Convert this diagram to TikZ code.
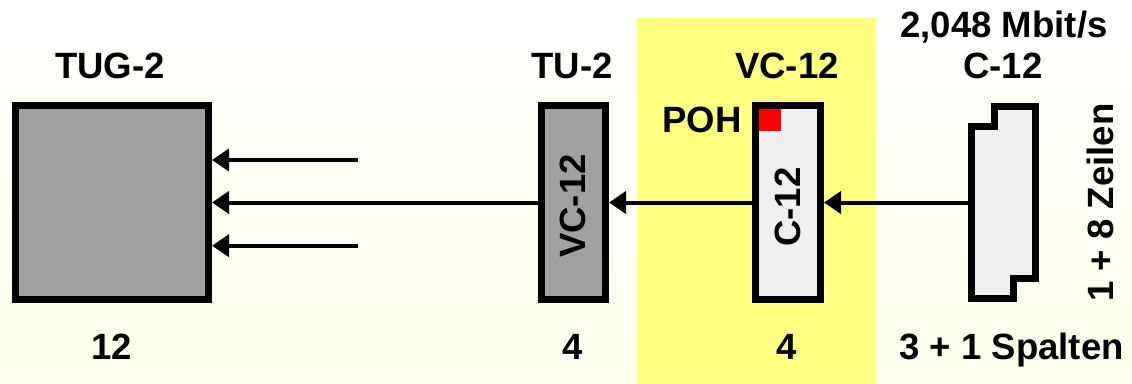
\documentclass[tikz,border=0pt]{standalone}
\usepackage{fontspec}
\setmainfont{Liberation Sans}
\usetikzlibrary{arrows.meta}
\definecolor{boxgray}{RGB}{160,160,160}
\definecolor{lightbox}{RGB}{239,239,239}
\definecolor{vcyellow}{RGB}{255,255,128}
\definecolor{cream}{RGB}{255,255,236}
\begin{document}
\begin{tikzpicture}[
		x=0.025cm, y=-0.025cm,
		every node/.style={font=\fontsize{26}{30}\selectfont\bfseries, inner sep=0pt},
		box/.style={draw, line width=0.175cm, fill=boxgray},
		arr/.style={line width=0.1cm, -{Triangle[length=0.425cm, width=0.55cm]}}
	]
	\shade[top color=white, bottom color=cream] (0,0) rectangle (1132,383);
	\fill[vcyellow] (637,18) rectangle (876,383);
	\useasboundingbox (0,0) rectangle (1132,383);
	\node[box, minimum width=4.825cm, minimum height=4.85cm] (tug) at (112,202.5) {};
	\node[box, minimum width=1.6cm, minimum height=4.85cm] (tu) at (573.5,202.5) {};
	\node[box, fill=lightbox, minimum width=1.625cm, minimum height=4.85cm] (vc) at (788,202.5) {};
	\fill[red] (759,109) rectangle (781,131);
	\node[minimum width=1.7675cm, minimum height=4.9cm] (c12) at (1003.35,202.5) {};
	\draw[line width=0.175cm, fill=lightbox] (971.5,126.5) -- (994,126.5) -- (994,106)
		-- (1035,106) -- (1035,278.5) -- (1013.5,278.5) -- (1013.5,298) -- (971.5,298) -- cycle;
	\coordinate (in1) at (358,160);
	\coordinate (in3) at (358,245.7);
	\draw[arr] (in1) -- (in1 -| tug.east);
	\draw[arr] (tu.west) -- (tu.west -| tug.east);
	\draw[arr] (in3) -- (in3 -| tug.east);
	\draw[arr] (vc.west) -- (tu.east);
	\draw[arr] (c12.west) -- (vc.east);
	\node[anchor=base] (tuglbl) at (110,78.5) {TUG-2};
	\node[anchor=base] (tulbl) at (572,78.5) {TU-2};
	\node[anchor=base] (vclbl) at (787,78.5) {VC-12};
	\node[anchor=base] (c12lbl) at (1003,78.5) {C-12};
	\node[anchor=base] (rate) at (1004,37) {2,048 Mbit/s};
	\node[anchor=base] (poh) at (702,132) {POH};
	\node[rotate=90] (tutext) at (573,206) {VC-12};
	\node[rotate=90] (vctext) at (788,207) {C-12};
	\node[rotate=90] (rows) at (1100,202.5) {1 + 8 Zeilen};
	\node[anchor=base] (n1) at (112,359) {12};
	\node[anchor=base] (n2) at (573,359) {4};
	\node[anchor=base] (n3) at (787,359) {4};
	\node[anchor=base] (cols) at (1011.5,359) {3 + 1 Spalten};
\end{tikzpicture}
\end{document}
